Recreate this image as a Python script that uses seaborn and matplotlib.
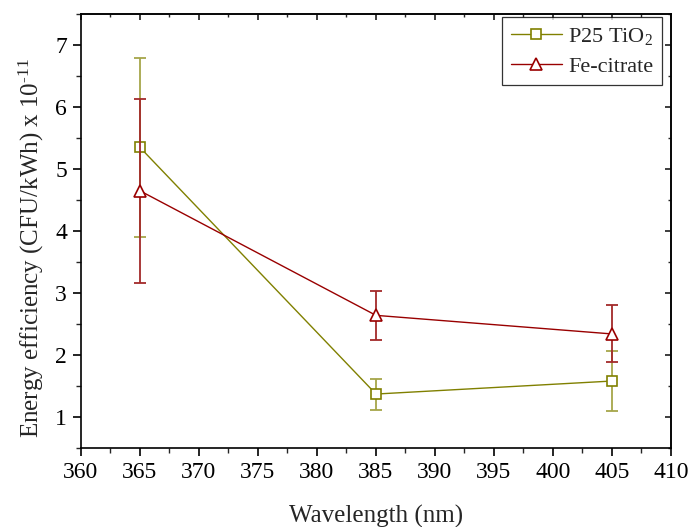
import matplotlib
matplotlib.use("Agg")
import matplotlib.pyplot as plt
import seaborn as sns
import pandas as pd
from matplotlib.ticker import MultipleLocator

wavelength = [365, 385, 405]
p25_values = [5.35, 1.37, 1.58]
p25_errors = [1.45, 0.25, 0.48]
fe_values = [4.65, 2.64, 2.34]
fe_errors = [1.48, 0.39, 0.46]
series_names = ["P25 TiO$_2$", "Fe-citrate"]

sns.set_theme(style="ticks")
plt.rcParams["font.family"] = ["Liberation Serif", "DejaVu Serif"]
plt.rcParams["mathtext.fontset"] = "custom"
plt.rcParams["mathtext.rm"] = "Liberation Serif"
plt.rcParams["mathtext.it"] = "Liberation Serif:italic"

p25_df = pd.DataFrame({"Wavelength": wavelength, "Value": p25_values})
fe_df = pd.DataFrame({"Wavelength": wavelength, "Value": fe_values})

c_p25 = "#808000"
c_fe = "#990000"
e_p25 = "#a6a64a"
e_fe = "#a32a2a"

fig = plt.figure(figsize=(6.91, 5.27), dpi=100)
ax = fig.add_axes([0.1172, 0.150, 0.8538, 0.823])

ax.errorbar(wavelength, p25_values, yerr=p25_errors, fmt="none",
            ecolor=e_p25, elinewidth=1.3, capsize=4.5, capthick=1.3, zorder=1)
sns.lineplot(data=p25_df, x="Wavelength", y="Value", color=c_p25, marker="s",
             markersize=7, markerfacecolor="white", markeredgecolor=c_p25,
             markeredgewidth=1.2, linewidth=1.0, label=series_names[0], ax=ax, zorder=2)
ax.errorbar(wavelength, fe_values, yerr=fe_errors, fmt="none",
            ecolor=e_fe, elinewidth=1.3, capsize=4.5, capthick=1.3, zorder=3)
sns.lineplot(data=fe_df, x="Wavelength", y="Value", color=c_fe, marker="^",
             markersize=9, markerfacecolor="white", markeredgecolor=c_fe,
             markeredgewidth=1.2, linewidth=1.0, label=series_names[1], ax=ax, zorder=4)

ax.set_xlim(360, 410)
ax.set_ylim(0.5, 7.5)
ax.xaxis.set_major_locator(MultipleLocator(5))
ax.xaxis.set_minor_locator(MultipleLocator(2.5))
ax.yaxis.set_major_locator(MultipleLocator(1))
ax.yaxis.set_minor_locator(MultipleLocator(0.5))
ax.tick_params(which="major", direction="out", length=6, width=1.2, labelsize=17, colors="black", pad=4)
ax.tick_params(which="minor", direction="out", length=3.5, width=1.0)
ax.tick_params(which="both", top=False, right=False)

sec_x = ax.secondary_xaxis("top")
sec_x.xaxis.set_major_locator(MultipleLocator(5))
sec_x.xaxis.set_minor_locator(MultipleLocator(2.5))
sec_x.tick_params(which="major", direction="in", length=4, labeltop=False)
sec_x.tick_params(which="minor", direction="in", length=2.5)
sec_x.spines["top"].set_linewidth(1.2)
sec_y = ax.secondary_yaxis("right")
sec_y.yaxis.set_major_locator(MultipleLocator(1))
sec_y.yaxis.set_minor_locator(MultipleLocator(0.5))
sec_y.tick_params(which="major", direction="in", length=4, labelright=False)
sec_y.tick_params(which="minor", direction="in", length=2.5)
sec_y.spines["right"].set_linewidth(1.2)

for s in ax.spines.values():
    s.set_linewidth(1.2)
    s.set_color("black")

ax.set_xlabel("Wavelength (nm)", fontsize=18, labelpad=16)
ax.set_ylabel("Energy efficiency (CFU/kWh) x 10$^{\\text{-}11}$", fontsize=18)
ax.yaxis.set_label_coords(-0.06, 0.461)

handles, labels = ax.get_legend_handles_labels()
leg = ax.legend(handles, labels, loc="upper right", bbox_to_anchor=(0.9856, 0.993),
                borderaxespad=0, fontsize=16, frameon=True, fancybox=False,
                edgecolor="black", handlelength=2.3, handletextpad=0.3,
                borderpad=0.4, labelspacing=0.4)
leg.get_frame().set_linewidth(0.9)

fig.savefig("out.png", dpi=100)
